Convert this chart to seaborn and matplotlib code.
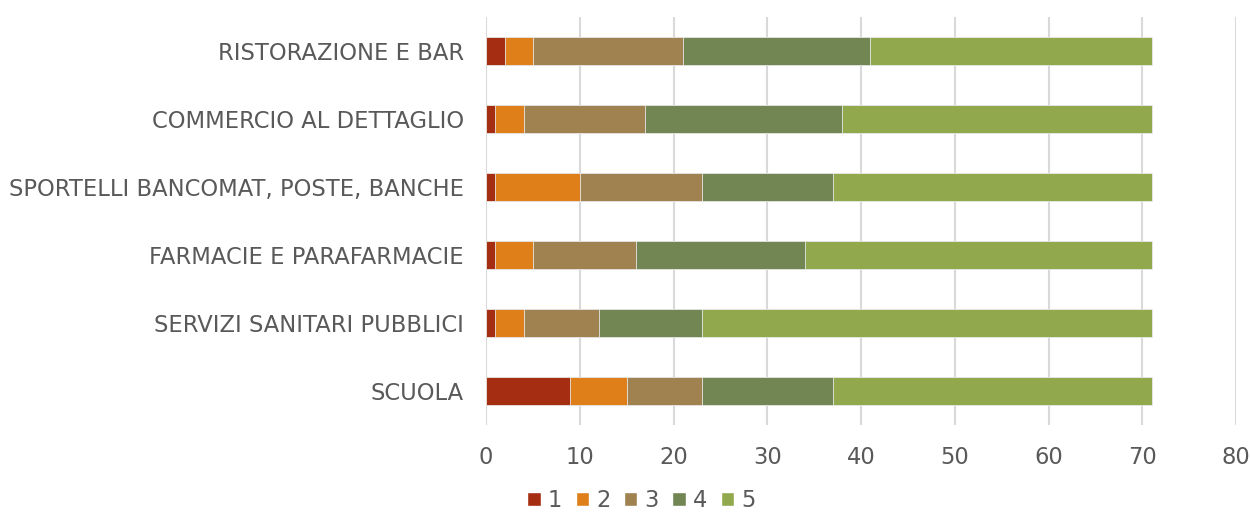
import matplotlib
matplotlib.use("Agg")
import matplotlib.pyplot as plt
import matplotlib.patches as mpatches
import seaborn as sns
import numpy as np
import pandas as pd

categories = [
    "RISTORAZIONE E BAR",
    "COMMERCIO AL DETTAGLIO",
    "SPORTELLI BANCOMAT, POSTE, BANCHE",
    "FARMACIE E PARAFARMACIE",
    "SERVIZI SANITARI PUBBLICI",
    "SCUOLA",
]
series_names = ["1", "2", "3", "4", "5"]
v1 = [2, 1, 1, 1, 1, 9]
v2 = [3, 3, 9, 4, 3, 6]
v3 = [16, 13, 13, 11, 8, 8]
v4 = [20, 21, 14, 18, 11, 14]
v5 = [30, 33, 34, 37, 48, 34]
colors = ["#A52D12", "#DF7F1A", "#9F8250", "#728653", "#92A84C"]
x_ticks = [0, 10, 20, 30, 40, 50, 60, 70, 80]

sns.set_theme(style="white")
plt.rcParams["font.family"] = ["DejaVu Sans"]
text_color = "#595959"

fig = plt.figure(figsize=(12.5, 5.18), dpi=100)
ax = fig.add_axes([0.3888, 0.1795, 0.6, 0.7876])

series = [v1, v2, v3, v4, v5]
cum = np.cumsum(np.array(series), axis=0)
df = pd.DataFrame({"category": categories})
for i in range(len(series) - 1, -1, -1):
    df["val"] = cum[i]
    sns.barplot(data=df, x="val", y="category", orient="h", color=colors[i],
                saturation=1, width=0.4, edgecolor="#E8E8E8", linewidth=0.6,
                ax=ax, zorder=3)

ax.set_xlim(0, 80)
ax.set_ylim(5.5, -0.5)
ax.set_xticks(x_ticks)
ax.set_xticklabels([str(t) for t in x_ticks])
ax.grid(axis="x", color="#D9D9D9", linewidth=1.5, zorder=0)
ax.grid(axis="y", visible=False)
for s in ax.spines.values():
    s.set_visible(False)
ax.set_xlabel("")
ax.set_ylabel("")
ax.tick_params(axis="x", length=0, pad=15, labelsize=16.3, labelcolor=text_color)
ax.tick_params(axis="y", length=0, pad=16, labelsize=16.3, labelcolor=text_color)

handles = [mpatches.Patch(facecolor=c, label=n) for c, n in zip(colors, series_names)]
fig.legend(handles=handles, loc="lower center", bbox_to_anchor=(0.513, -0.028), ncol=5,
           frameon=False, fontsize=16.3, labelcolor=text_color, handlelength=0.6,
           handleheight=0.6, handletextpad=0.3, columnspacing=0.6)

fig.savefig("out.png", dpi=100)
